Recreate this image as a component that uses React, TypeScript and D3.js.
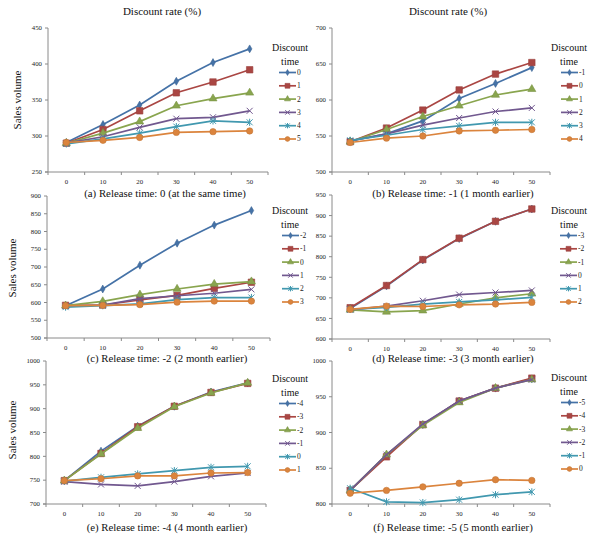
import React from "react";
import * as d3 from "d3";

const rates = [0, 10, 20, 30, 40, 50];

const labelsA = ["0", "1", "2", "3", "4", "5"];
const valuesA = [
  [291, 316, 343, 376, 402, 421],
  [290, 309, 335, 360, 375, 392],
  [290, 304, 320, 342, 352, 360],
  [290, 299, 312, 324, 326, 335],
  [289, 296, 304, 313, 321, 319],
  [291, 294, 298, 305, 306, 307],
];
const labelsB = ["-1", "0", "1", "2", "3", "4"];
const valuesB = [
  [543, 553, 571, 602, 623, 645],
  [542, 561, 586, 614, 636, 652],
  [542, 559, 577, 592, 607, 615],
  [543, 553, 565, 575, 584, 589],
  [544, 551, 559, 564, 569, 569],
  [541, 547, 550, 557, 558, 559],
];
const labelsC = ["-2", "-1", "0", "1", "2", "3"];
const valuesC = [
  [591, 638, 705, 767, 818, 859],
  [592, 593, 607, 620, 640, 657],
  [591, 603, 622, 638, 652, 659],
  [590, 593, 611, 619, 626, 637],
  [587, 591, 596, 608, 614, 614],
  [591, 592, 594, 601, 604, 604],
];
const labelsD = ["-3", "-2", "-1", "0", "1", "2"];
const valuesD = [
  [674, 729, 792, 844, 886, 916],
  [676, 730, 793, 845, 886, 916],
  [671, 666, 669, 685, 700, 710],
  [671, 680, 693, 708, 713, 718],
  [672, 677, 685, 690, 695, 701],
  [672, 680, 679, 683, 685, 689],
];
const labelsE = ["-4", "-3", "-2", "-1", "0", "1"];
const valuesE = [
  [749, 811, 863, 905, 935, 954],
  [749, 806, 862, 905, 934, 953],
  [749, 805, 859, 904, 933, 954],
  [747, 741, 738, 747, 758, 765],
  [748, 756, 763, 770, 777, 779],
  [749, 753, 759, 759, 765, 766],
];
const labelsF = ["-5", "-4", "-3", "-2", "-1", "0"];
const valuesF = [
  [819, 868, 911, 944, 962, 975],
  [819, 866, 911, 944, 962, 976],
  [819, 869, 910, 942, 962, 974],
  [819, 869, 912, 944, 962, 974],
  [822, 803, 802, 806, 813, 817],
  [815, 819, 824, 829, 834, 833],
];

const yDomains = [
  [250, 450],
  [500, 700],
  [500, 900],
  [600, 950],
  [700, 1000],
  [800, 1000],
];
const captions = [
  "(a) Release time: 0 (at the same time)",
  "(b) Release time: -1 (1 month earlier)",
  "(c) Release time: -2 (2 month earlier)",
  "(d) Release time: -3 (3 month earlier)",
  "(e) Release time: -4 (4 month earlier)",
  "(f) Release time: -5 (5 month earlier)",
];

const colors = ["#4572A7", "#AA4643", "#89A54E", "#71588F", "#4198AF", "#DB843D"];
const markerKinds = ["diamond", "square", "triangle", "x", "star", "circle"];

const layouts = [
  { left: 48, right: 268, top: 28, bottom: 172, legX: 279, legTitleX: 290, legY: 47, capY: 193, capX: 165, yLabel: { x: 17, y: 100 } },
  { left: 332, right: 550, top: 28, bottom: 172, legX: 561, legTitleX: 569, legY: 47, capY: 193, capX: 453, yLabel: null },
  { left: 47, right: 270, top: 196, bottom: 338, legX: 282, legTitleX: 290, legY: 210, capY: 358, capX: 167, yLabel: { x: 12, y: 268 } },
  { left: 332, right: 550, top: 195, bottom: 339, legX: 560, legTitleX: 569, legY: 210, capY: 358, capX: 453, yLabel: null },
  { left: 46, right: 266, top: 361, bottom: 504, legX: 279, legTitleX: 290, legY: 378, capY: 527, capX: 167, yLabel: { x: 12, y: 430 } },
  { left: 332, right: 550, top: 361, bottom: 504, legX: 561, legTitleX: 569, legY: 377, capY: 527, capX: 453, yLabel: null },
];

const FONT = "Liberation Serif, DejaVu Serif, Times New Roman, serif";
const AXIS = "#8a8a8a";

function Marker({ kind, x, y, color, scale = 1 }: { kind: string; x: number; y: number; color: string; scale?: number }) {
  const s = scale;
  if (kind === "x" || kind === "star") {
    const r = 3 * s;
    return (
      <g stroke={color} strokeWidth={1} fill="none">
        <line x1={x - r} y1={y - r} x2={x + r} y2={y + r} />
        <line x1={x - r} y1={y + r} x2={x + r} y2={y - r} />
        {kind === "star" && <line x1={x} y1={y - r * 1.2} x2={x} y2={y + r * 1.2} />}
      </g>
    );
  }
  const typeMap: any = {
    diamond: d3.symbolDiamond,
    square: d3.symbolSquare,
    triangle: d3.symbolTriangle,
    circle: d3.symbolCircle,
  };
  const sizeMap: any = { diamond: 18, square: 42, triangle: 28, circle: 32 };
  const path = d3.symbol().type(typeMap[kind]).size(sizeMap[kind] * s * s)()!;
  return <path d={path} transform={`translate(${x},${y})`} fill={color} stroke={d3.color(color)!.darker(0.3).toString()} strokeWidth={0.6} />;
}

function Panel({ idx, labels, values }: { idx: number; labels: string[]; values: number[][] }) {
  const L = layouts[idx];
  const x = d3.scaleBand<number>().domain(rates).range([L.left, L.right]).paddingInner(0).paddingOuter(0);
  const cx = (r: number) => (x(r) as number) + x.bandwidth() / 2;
  const dom = yDomains[idx];
  const y = d3.scaleLinear().domain(dom).range([L.bottom, L.top]);
  const yTicks = d3.range(dom[0], dom[1] + 1, 50);
  const line = d3
    .line<number>()
    .x((_, i) => cx(rates[i]))
    .y((d) => y(d));
  const bounds = rates.map((r) => x(r) as number).concat([L.right]);
  const tf = { fontFamily: FONT };
  return (
    <g>
      <line x1={L.left} y1={L.top} x2={L.left} y2={L.bottom} stroke={AXIS} strokeWidth={1} />
      <line x1={L.left - 3} y1={L.bottom} x2={L.right} y2={L.bottom} stroke={AXIS} strokeWidth={1} />
      {yTicks.map((t) => (
        <g key={"yt" + t}>
          <line x1={L.left - 3} x2={L.left} y1={y(t)} y2={y(t)} stroke={AXIS} />
          <text x={L.left - 6} y={y(t)} dy="0.33em" textAnchor="end" fontSize={6.8} style={tf} fill="#222">
            {t}
          </text>
        </g>
      ))}
      {bounds.map((b, i) => (
        <line key={"xb" + i} x1={b} x2={b} y1={L.bottom} y2={L.bottom + 3} stroke={AXIS} />
      ))}
      {rates.map((r) => (
        <text key={"xt" + r} x={cx(r)} y={L.bottom + 10} dy="0.33em" textAnchor="middle" fontSize={6.8} style={tf} fill="#222">
          {r}
        </text>
      ))}
      <text x={L.capX} y={L.capY} dy="0.35em" textAnchor="middle" fontSize={10.8} style={tf} fill="#111">
        {captions[idx]}
      </text>
      {L.yLabel && (
        <text
          transform={`translate(${L.yLabel.x},${L.yLabel.y}) rotate(-90)`}
          dy="0.35em"
          textAnchor="middle"
          fontSize={11}
          style={tf}
          fill="#111"
        >
          Sales volume
        </text>
      )}
      {values.map((vals, si) => (
        <g key={"s" + si}>
          <path d={line(vals)!} fill="none" stroke={colors[si]} strokeWidth={1.7} />
          {vals.map((v, i) => (
            <Marker key={i} kind={markerKinds[si]} x={cx(rates[i])} y={y(v)} color={colors[si]} />
          ))}
        </g>
      ))}
      <text x={L.legTitleX} y={L.legY} dy="0.35em" textAnchor="middle" fontSize={10} style={tf} fill="#111">
        Discount
      </text>
      <text x={L.legTitleX} y={L.legY + 14.5} dy="0.35em" textAnchor="middle" fontSize={10} style={tf} fill="#111">
        time
      </text>
      {labels.map((lab, si) => {
        const ly = L.legY + 25.5 + si * 13.3;
        return (
          <g key={"lg" + si}>
            <line x1={L.legX} x2={L.legX + 17} y1={ly} y2={ly} stroke={colors[si]} strokeWidth={1.7} />
            <Marker kind={markerKinds[si]} x={L.legX + 8.5} y={ly} color={colors[si]} scale={0.75} />
            <text x={L.legX + 18} y={ly} dy="0.33em" fontSize={7.5} style={tf} fill="#222">
              {lab}
            </text>
          </g>
        );
      })}
    </g>
  );
}

export default function App() {
  const data = [
    { labels: labelsA, values: valuesA },
    { labels: labelsB, values: valuesB },
    { labels: labelsC, values: valuesC },
    { labels: labelsD, values: valuesD },
    { labels: labelsE, values: valuesE },
    { labels: labelsF, values: valuesF },
  ];
  const tf = { fontFamily: FONT };
  return (
    <svg width={600} height={540} style={{ position: "absolute", left: 0, top: 0, background: "#fff" }}>
      <rect width={600} height={540} fill="#fff" />
      <text x={162} y={11} dy="0.35em" textAnchor="middle" fontSize={11} style={tf} fill="#111">
        Discount rate (%)
      </text>
      <text x={448} y={11} dy="0.35em" textAnchor="middle" fontSize={11} style={tf} fill="#111">
        Discount rate (%)
      </text>
      {data.map((d, i) => (
        <Panel key={i} idx={i} labels={d.labels} values={d.values} />
      ))}
    </svg>
  );
}
